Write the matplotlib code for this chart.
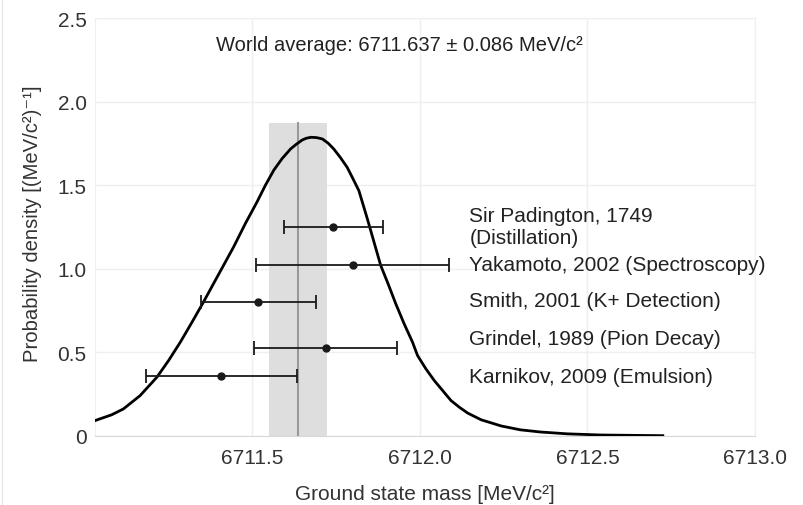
import matplotlib
matplotlib.use('Agg')
import matplotlib.pyplot as plt
from matplotlib.lines import Line2D

plt.rcParams['font.family'] = ['Liberation Sans', 'DejaVu Sans']

# probability density curve
curve_x = [6711.030, 6711.080, 6711.115, 6711.165, 6711.215, 6711.250, 6711.285,
           6711.320, 6711.354, 6711.384, 6711.414, 6711.444, 6711.479, 6711.514,
           6711.539, 6711.564, 6711.589, 6711.614, 6711.631, 6711.649, 6711.662,
           6711.676, 6711.692, 6711.709, 6711.726, 6711.743, 6711.763, 6711.783,
           6711.800, 6711.818, 6711.843, 6711.863, 6711.883, 6711.905, 6711.928,
           6711.953, 6711.978, 6711.993, 6712.018, 6712.043, 6712.068, 6712.093,
           6712.118, 6712.143, 6712.183, 6712.243, 6712.300, 6712.360, 6712.440,
           6712.540, 6712.725]
curve_y = [0.090, 0.125, 0.16, 0.24, 0.35, 0.45, 0.56,
           0.68, 0.80, 0.91, 1.02, 1.13, 1.27, 1.40,
           1.50, 1.59, 1.66, 1.717, 1.745, 1.771, 1.782,
           1.787, 1.785, 1.777, 1.752, 1.717, 1.665, 1.607,
           1.54, 1.467, 1.30, 1.16, 1.02, 0.91, 0.79,
           0.67, 0.56, 0.48, 0.40, 0.33, 0.27, 0.21,
           0.17, 0.135, 0.095, 0.058, 0.035, 0.022, 0.011,
           0.004, 0.0]

# world average
avg_mass = 6711.637
avg_err = 0.086
band_height = 1.87

# individual measurements
labels = ['Sir Padington, 1749\n(Distillation)',
          'Yakamoto, 2002 (Spectroscopy)',
          'Smith, 2001 (K+ Detection)',
          'Grindel, 1989 (Pion Decay)',
          'Karnikov, 2009 (Emulsion)']
meas_mass = [6711.741, 6711.800, 6711.518, 6711.719, 6711.407]
meas_err_lo = [0.148, 0.288, 0.171, 0.213, 0.224]
meas_err_hi = [0.148, 0.287, 0.171, 0.212, 0.225]
meas_y = [1.25, 1.02, 0.80, 0.525, 0.357]
label_x = 6712.148
label_y = [1.253, 1.028, 0.807, 0.579, 0.357]

fig = plt.figure(figsize=(8.04, 5.06), dpi=100)
ax = fig.add_axes([0.118, 0.137, 0.821, 0.825])

#faint border line on the left of the picture
fig.add_artist(Line2D([0.003, 0.003], [0, 1], transform=fig.transFigure,
                      color='#e8e8e8', lw=1))

#shaded band and centre line for world average
ax.fill_between([avg_mass - avg_err, avg_mass + avg_err], 0, band_height,
                color='#dedede', lw=0, zorder=1)
ax.plot([avg_mass, avg_mass], [0, band_height], color='#999999', lw=1.5, zorder=2)

#density curve
ax.plot(curve_x, curve_y, color='black', lw=2, zorder=3, solid_joinstyle='round')

#measurements with error bars
ax.errorbar(meas_mass, meas_y, xerr=[meas_err_lo, meas_err_hi], fmt='o',
            color='#1a1a1a', ms=5, elinewidth=1.3, capsize=5, capthick=1.3, zorder=4)
for lab, yy in zip(labels, label_y):
    ax.text(label_x, yy, lab, fontsize=15, color='#222222', va='center', ha='left',
            linespacing=1.25)

ax.text(6711.94, 2.345, 'World average: 6711.637 ± 0.086 MeV/c²', fontsize=14.5,
        color='#222222', ha='center', va='center')

ax.set_xlim(6711.03, 6713.0)
ax.set_ylim(0, 2.5)
ax.set_xticks([6711.5, 6712.0, 6712.5, 6713.0])
ax.set_xticklabels(['6711.5', '6712.0', '6712.5', '6713.0'])
ax.set_yticks([0, 0.5, 1.0, 1.5, 2.0, 2.5])
ax.set_yticklabels(['0', '0.5', '1.0', '1.5', '2.0', '2.5'])
ax.tick_params(length=0, labelsize=15, colors='#333333')
ax.tick_params(axis='x', pad=9)
ax.tick_params(axis='y', pad=6)
ax.grid(True, color='#efefef', lw=1, zorder=0)
ax.set_axisbelow(True)
for side in ['left', 'right', 'top']:
    ax.spines[side].set_color('#efefef')
ax.spines['bottom'].set_color('#d8d8d8')

ax.set_xlabel('Ground state mass [MeV/c²]', fontsize=15, color='#333333', labelpad=12)
ax.set_ylabel('Probability density [(MeV/c²)⁻¹]', fontsize=14.6, color='#333333')
ax.yaxis.set_label_coords(-0.080, 0.51)

fig.savefig('out.png', dpi=100)
